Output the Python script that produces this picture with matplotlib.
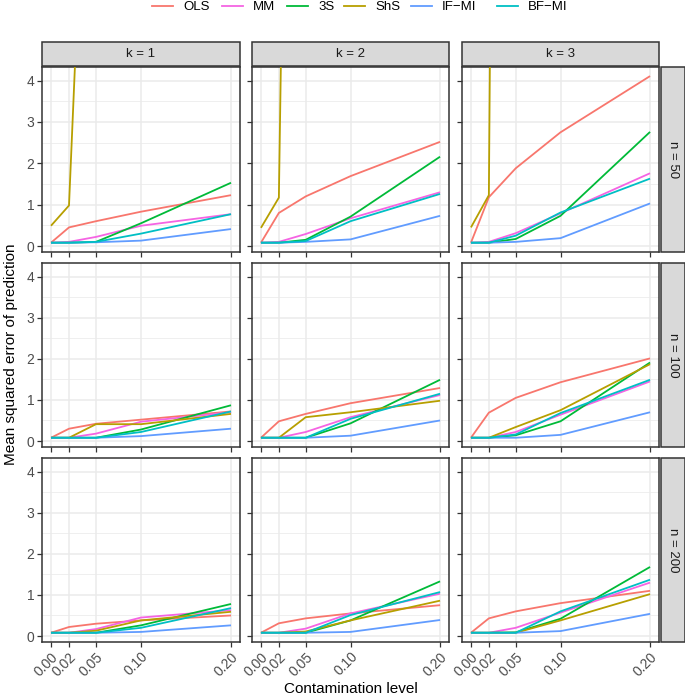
import matplotlib
matplotlib.use("Agg")
import matplotlib.pyplot as plt
from matplotlib.lines import Line2D
from matplotlib.patches import Rectangle

plt.rcParams['font.family'] = ['Liberation Sans', 'DejaVu Sans']

contamination = [0.00, 0.02, 0.05, 0.10, 0.20]
x_tick_labels = ["0.00", "0.02", "0.05", "0.10", "0.20"]
methods = ["OLS", "MM", "3S", "ShS", "IF\u2212MI", "BF\u2212MI"]
colors = ["#F8766D", "#F564E3", "#00BA38", "#B79F00", "#619CFF", "#00BFC4"]
k_labels = ["k = 1", "k = 2", "k = 3"]
n_labels = ["n = 50", "n = 100", "n = 200"]

# n = 50
n50_k1_OLS = [0.08, 0.45, 0.60, 0.83, 1.23]
n50_k1_MM = [0.08, 0.10, 0.22, 0.49, 0.77]
n50_k1_3S = [0.08, 0.08, 0.10, 0.55, 1.53]
n50_k1_ShS = [0.49, 0.98, 16.3, 30.0, 50.0]
n50_k1_IF = [0.08, 0.08, 0.09, 0.13, 0.41]
n50_k1_BF = [0.08, 0.08, 0.10, 0.30, 0.77]

n50_k2_OLS = [0.08, 0.80, 1.20, 1.69, 2.52]
n50_k2_MM = [0.08, 0.10, 0.29, 0.67, 1.30]
n50_k2_3S = [0.08, 0.08, 0.15, 0.71, 2.16]
n50_k2_ShS = [0.44, 1.17, 44.0, 60.0, 80.0]
n50_k2_IF = [0.08, 0.08, 0.10, 0.16, 0.73]
n50_k2_BF = [0.08, 0.08, 0.12, 0.60, 1.26]

n50_k3_OLS = [0.08, 1.18, 1.88, 2.75, 4.11]
n50_k3_MM = [0.08, 0.10, 0.31, 0.79, 1.76]
n50_k3_3S = [0.08, 0.08, 0.17, 0.73, 2.76]
n50_k3_ShS = [0.45, 1.23, 85.0, 100.0, 120.0]
n50_k3_IF = [0.08, 0.08, 0.10, 0.19, 1.03]
n50_k3_BF = [0.08, 0.08, 0.25, 0.81, 1.63]

# n = 100
n100_k1_OLS = [0.08, 0.30, 0.42, 0.52, 0.72]
n100_k1_MM = [0.08, 0.08, 0.18, 0.47, 0.70]
n100_k1_3S = [0.08, 0.08, 0.08, 0.28, 0.87]
n100_k1_ShS = [0.08, 0.08, 0.41, 0.41, 0.66]
n100_k1_IF = [0.08, 0.08, 0.08, 0.12, 0.30]
n100_k1_BF = [0.08, 0.08, 0.08, 0.22, 0.72]

n100_k2_OLS = [0.08, 0.48, 0.66, 0.92, 1.29]
n100_k2_MM = [0.08, 0.08, 0.22, 0.58, 1.12]
n100_k2_3S = [0.08, 0.08, 0.08, 0.43, 1.49]
n100_k2_ShS = [0.08, 0.08, 0.58, 0.70, 0.98]
n100_k2_IF = [0.08, 0.08, 0.08, 0.13, 0.50]
n100_k2_BF = [0.08, 0.08, 0.08, 0.54, 1.15]

n100_k3_OLS = [0.08, 0.69, 1.05, 1.43, 2.01]
n100_k3_MM = [0.08, 0.08, 0.22, 0.64, 1.45]
n100_k3_3S = [0.08, 0.08, 0.14, 0.48, 1.91]
n100_k3_ShS = [0.08, 0.08, 0.34, 0.75, 1.87]
n100_k3_IF = [0.08, 0.08, 0.08, 0.15, 0.70]
n100_k3_BF = [0.08, 0.08, 0.16, 0.68, 1.49]

# n = 200
n200_k1_OLS = [0.08, 0.22, 0.30, 0.38, 0.50]
n200_k1_MM = [0.08, 0.08, 0.17, 0.45, 0.63]
n200_k1_3S = [0.08, 0.08, 0.08, 0.26, 0.78]
n200_k1_ShS = [0.08, 0.08, 0.13, 0.38, 0.59]
n200_k1_IF = [0.08, 0.08, 0.08, 0.10, 0.26]
n200_k1_BF = [0.08, 0.08, 0.08, 0.20, 0.68]

n200_k2_OLS = [0.08, 0.31, 0.43, 0.55, 0.75]
n200_k2_MM = [0.08, 0.08, 0.18, 0.55, 1.03]
n200_k2_3S = [0.08, 0.08, 0.08, 0.38, 1.33]
n200_k2_ShS = [0.08, 0.08, 0.11, 0.38, 0.86]
n200_k2_IF = [0.08, 0.08, 0.08, 0.10, 0.39]
n200_k2_BF = [0.08, 0.08, 0.08, 0.51, 1.07]

n200_k3_OLS = [0.08, 0.43, 0.60, 0.80, 1.10]
n200_k3_MM = [0.08, 0.08, 0.20, 0.57, 1.30]
n200_k3_3S = [0.08, 0.08, 0.09, 0.42, 1.68]
n200_k3_ShS = [0.08, 0.08, 0.08, 0.38, 1.02]
n200_k3_IF = [0.08, 0.08, 0.08, 0.12, 0.54]
n200_k3_BF = [0.08, 0.08, 0.08, 0.60, 1.37]

data = [
    [[n50_k1_OLS, n50_k1_MM, n50_k1_3S, n50_k1_ShS, n50_k1_IF, n50_k1_BF],
     [n50_k2_OLS, n50_k2_MM, n50_k2_3S, n50_k2_ShS, n50_k2_IF, n50_k2_BF],
     [n50_k3_OLS, n50_k3_MM, n50_k3_3S, n50_k3_ShS, n50_k3_IF, n50_k3_BF]],
    [[n100_k1_OLS, n100_k1_MM, n100_k1_3S, n100_k1_ShS, n100_k1_IF, n100_k1_BF],
     [n100_k2_OLS, n100_k2_MM, n100_k2_3S, n100_k2_ShS, n100_k2_IF, n100_k2_BF],
     [n100_k3_OLS, n100_k3_MM, n100_k3_3S, n100_k3_ShS, n100_k3_IF, n100_k3_BF]],
    [[n200_k1_OLS, n200_k1_MM, n200_k1_3S, n200_k1_ShS, n200_k1_IF, n200_k1_BF],
     [n200_k2_OLS, n200_k2_MM, n200_k2_3S, n200_k2_ShS, n200_k2_IF, n200_k2_BF],
     [n200_k3_OLS, n200_k3_MM, n200_k3_3S, n200_k3_ShS, n200_k3_IF, n200_k3_BF]],
]

W, H = 685, 697
fig = plt.figure(figsize=(W / 100, H / 100), dpi=100)

col_x = [(42, 240), (252, 449), (462, 659)]
row_y = [(67, 252), (263, 447), (458, 642)]
strip_h = 24
strip_w = 24

def fx(px):
    return px / W

def fy(py):
    return 1 - py / H

grid_c = "#EBEBEB"
for r in range(3):
    for c in range(3):
        x0, x1 = col_x[c]
        y0, y1 = row_y[r]
        ax = fig.add_axes([fx(x0), fy(y1), fx(x1 - x0), (y1 - y0) / H])
        for s, vals in enumerate(data[r][c]):
            ax.plot(contamination, vals, color=colors[s], lw=1.3, zorder=3,
                    solid_capstyle='butt', clip_on=True)
        ax.set_xlim(-0.01, 0.21)
        ax.set_ylim(-0.145, 4.33)
        ax.set_xticks(contamination)
        ax.set_yticks([0, 1, 2, 3, 4])
        ax.set_yticks([0.5, 1.5, 2.5, 3.5], minor=True)
        ax.grid(True, which='major', color=grid_c, lw=1.1, zorder=0)
        ax.grid(True, which='minor', axis='y', color=grid_c, lw=0.55, zorder=0)
        ax.set_axisbelow(True)
        for sp in ax.spines.values():
            sp.set_color("#333333")
            sp.set_linewidth(1.1)
        ax.tick_params(which='minor', length=0)
        ax.tick_params(which='major', length=3.5, width=0.9, color="#333333",
                       labelsize=10, labelcolor="#4D4D4D", pad=2)
        if c == 0:
            ax.set_yticklabels(["0", "1", "2", "3", "4"], color="#4D4D4D")
        else:
            ax.tick_params(axis='y', labelleft=False)
        if r == 2:
            ax.set_xticklabels(x_tick_labels, rotation=45, ha='right',
                               rotation_mode='anchor', color="#4D4D4D")
        else:
            ax.tick_params(axis='x', labelbottom=False)
        # top strips
        if r == 0:
            fig.patches.append(Rectangle((fx(x0), fy(y0 - 1)), fx(x1 - x0), strip_h / H,
                                         transform=fig.transFigure, facecolor="#D9D9D9",
                                         edgecolor="#333333", lw=1.1, zorder=1))
            fig.text(fx((x0 + x1) / 2), fy(y0 - 1 - strip_h / 2), k_labels[c],
                     ha='center', va='center', fontsize=9.5, color="#1A1A1A")
        if c == 2:
            fig.patches.append(Rectangle((fx(x1 + 2), fy(y1)), fx(strip_w), (y1 - y0) / H,
                                         transform=fig.transFigure, facecolor="#D9D9D9",
                                         edgecolor="#333333", lw=1.1, zorder=1))
            fig.text(fx(x1 + 2 + strip_w / 2), fy((y0 + y1) / 2), n_labels[r],
                     ha='center', va='center', fontsize=9.5, color="#1A1A1A", rotation=-90)

# axis titles
fig.text(fx(11), fy((67 + 642) / 2), "Mean squared error of prediction", rotation=90,
         ha='center', va='center', fontsize=11, color="black")
fig.text(fx((42 + 659) / 2), fy(689), "Contamination level",
         ha='center', va='center', fontsize=11, color="black")

# legend
leg_line_x = [152, 222, 287, 344, 411, 497]
leg_y = 5.5
for lx, m, col in zip(leg_line_x, methods, colors):
    fig.add_artist(Line2D([fx(lx), fx(lx + 21)], [fy(leg_y), fy(leg_y)],
                          transform=fig.transFigure, color=col, lw=1.3))
    fig.text(fx(lx + 31), fy(10.5), m, ha='left', va='baseline', fontsize=9.5, color="black")

fig.savefig("out.png", dpi=100)
